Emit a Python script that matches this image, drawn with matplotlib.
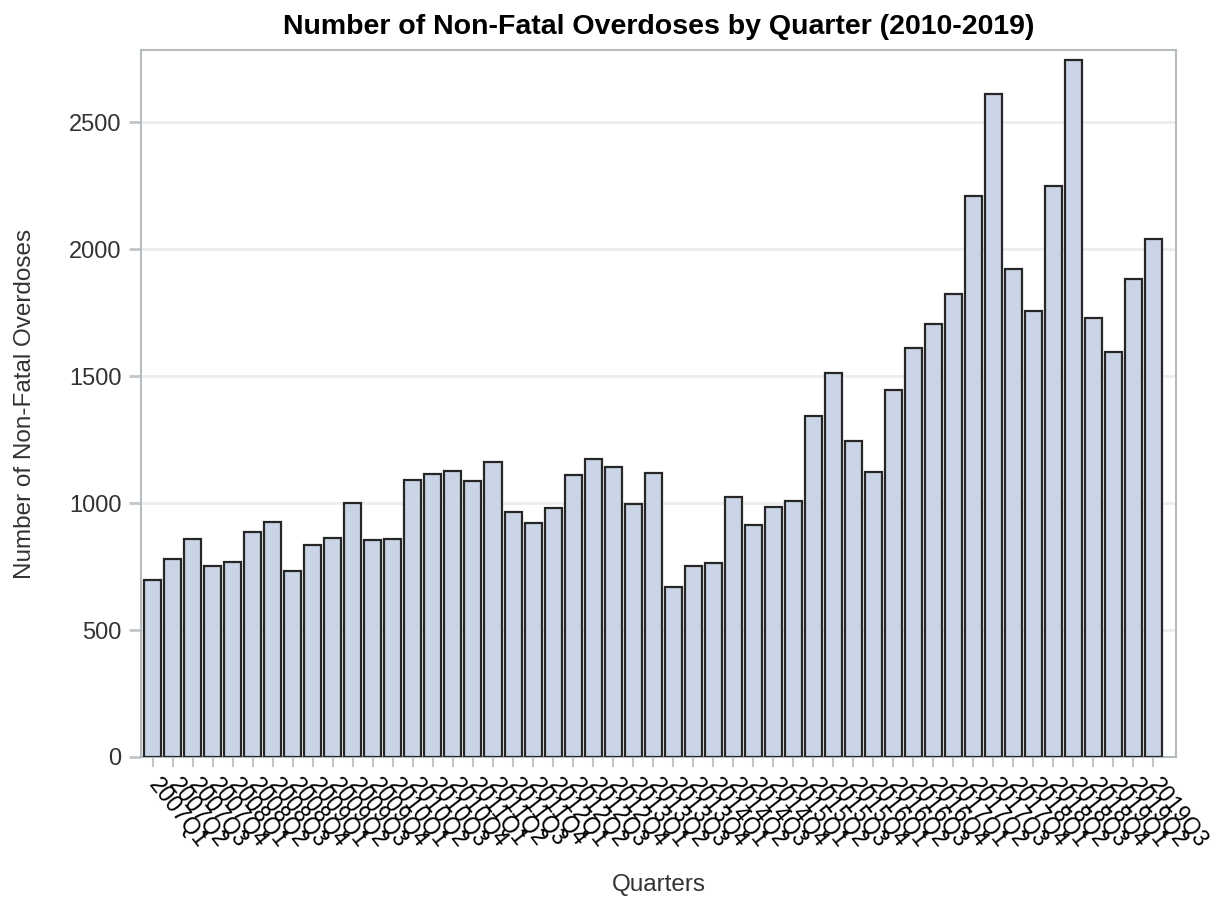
import matplotlib
matplotlib.use('Agg')
import matplotlib.pyplot as plt
import numpy as np

plt.rcParams['font.family'] = ['Liberation Sans', 'DejaVu Sans']

# quarters 2007Q1 .. 2019Q3
years = list(range(2007, 2020))
quarters = [f'{y}Q{q}' for y in years for q in range(1, 5)][:51]

overdoses = [697, 781, 857, 752, 766, 887, 925, 734, 833, 861,
             1001, 854, 857, 1091, 1114, 1125, 1088, 1163, 966, 920,
             979, 1110, 1173, 1141, 995, 1119, 670, 751, 763, 1024,
             914, 986, 1007, 1343, 1514, 1243, 1123, 1447, 1609, 1707,
             1824, 2208, 2610, 1920, 1757, 2248, 2745, 1730, 1595, 1883,
             2040]

yticks = [0, 500, 1000, 1500, 2000, 2500]

fig = plt.figure(figsize=(12.15, 8.99), dpi=100)
ax = fig.add_axes([0.116, 0.158, 0.852, 0.786])

x = np.arange(len(quarters))
ax.bar(x, overdoses, width=0.85, color='#C9D5E6', edgecolor='#262626',
       linewidth=1.6, zorder=3)

ax.set_xlim(-0.6, 51.15)
ax.set_ylim(0, 2783)
ax.set_yticks(yticks)
ax.set_xticks(x)
ax.set_xticklabels(quarters, rotation=-52, ha='left', va='center',
                   rotation_mode='anchor', fontsize=16.5)
ax.tick_params(axis='y', labelsize=17, length=9, width=2, color='#C2C6CA',
               pad=5, labelcolor='#333333')
ax.tick_params(axis='x', length=7, width=1.5, color='#C2C6CA', pad=10)

ax.grid(axis='y', color='#EDEDED', linewidth=2, zorder=0)
for s in ax.spines.values():
    s.set_color('#B5BBBF')
    s.set_linewidth(1.5)

ax.set_title('Number of Non-Fatal Overdoses by Quarter (2010-2019)',
             fontsize=20.5, fontweight='bold', pad=12)
ax.set_xlabel('Quarters', fontsize=17.5, color='#333333', labelpad=16)
ax.set_ylabel('Number of Non-Fatal Overdoses', fontsize=17.5, color='#333333',
              labelpad=24)

fig.savefig('out.png', dpi=100)
